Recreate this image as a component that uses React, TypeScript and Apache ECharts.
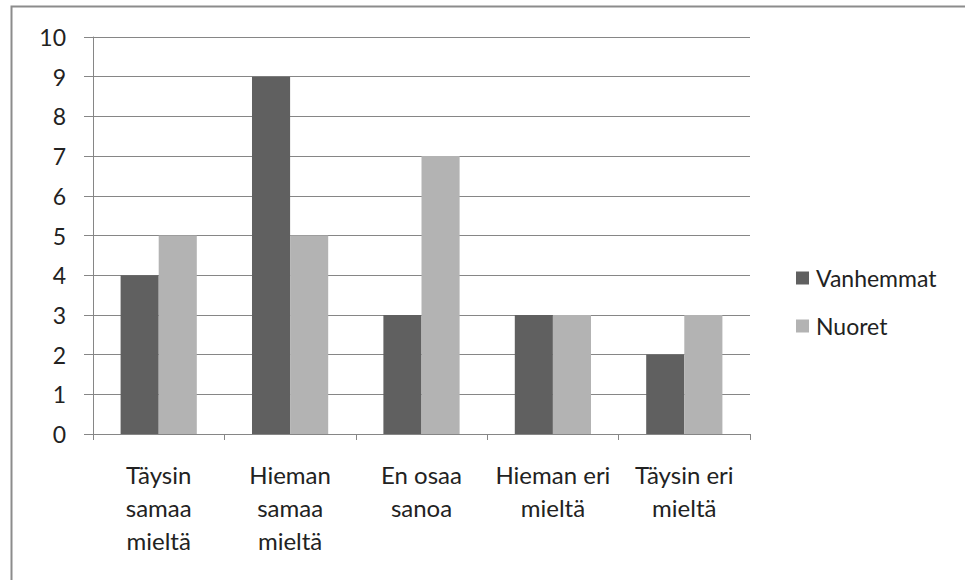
import React, { useEffect, useRef } from "react";
import * as echarts from "echarts";

const categories = [
  "Täysin samaa mieltä",
  "Hieman samaa mieltä",
  "En osaa sanoa",
  "Hieman eri mieltä",
  "Täysin eri mieltä",
];
const categoryLabels = [
  "Täysin\nsamaa\nmieltä",
  "Hieman\nsamaa\nmieltä",
  "En osaa\nsanoa",
  "Hieman eri\nmieltä",
  "Täysin eri\nmieltä",
];
const vanhemmat = [4, 9, 3, 3, 2];
const nuoret = [5, 5, 7, 3, 3];
const seriesNames = ["Vanhemmat", "Nuoret"];

const FONT = "Lato, 'Open Sans', sans-serif";
const FS = 24;

export default function App() {
  const ref = useRef<HTMLDivElement>(null);
  useEffect(() => {
    if (!ref.current) return;
    const chart = echarts.init(ref.current, null, { renderer: "svg" });
    chart.setOption({
      animation: false,
      backgroundColor: "#ffffff",
      textStyle: { fontFamily: FONT },
      graphic: [
        {
          type: "rect",
          shape: { x: 11.5, y: 6.5, width: 1000, height: 700 },
          style: { fill: "none", stroke: "#8c8c8c", lineWidth: 2 },
          silent: true,
        },
      ],
      grid: { left: 93, right: 215, top: 37, bottom: 146 },
      legend: {
        orient: "vertical",
        left: 791,
        top: 261,
        icon: "rect",
        itemWidth: 13,
        itemHeight: 13,
        itemGap: 24,
        textStyle: { fontSize: FS - 1, color: "#222222", fontFamily: FONT, lineHeight: 24, padding: [0, 0, 0, 2] },
        data: seriesNames,
      },
      xAxis: {
        type: "category",
        data: categories,
        axisLine: { show: true, lineStyle: { color: "#868686", width: 1 } },
        axisTick: { show: true, length: 6, lineStyle: { color: "#868686" } },
        axisLabel: {
          interval: 0,
          margin: 24,
          fontSize: FS,
          lineHeight: 33,
          color: "#222222",
          fontFamily: FONT,
          formatter: (v: string) => categoryLabels[categories.indexOf(v)] ?? v,
        },
      },
      yAxis: {
        type: "value",
        min: 0,
        max: 10,
        interval: 1,
        axisLine: { show: true, lineStyle: { color: "#868686", width: 1 } },
        axisTick: { show: true, length: 9, lineStyle: { color: "#868686" } },
        splitLine: { show: true, lineStyle: { color: "#868686", width: 1 } },
        axisLabel: { margin: 27, fontSize: FS - 1, color: "#222222", fontFamily: FONT },
      },
      series: [
        {
          name: seriesNames[0],
          type: "bar",
          data: vanhemmat,
          barWidth: "29%",
          barGap: "0%",
          itemStyle: { color: "#606060" },
        },
        {
          name: seriesNames[1],
          type: "bar",
          data: nuoret,
          barWidth: "29%",
          barGap: "0%",
          itemStyle: { color: "#b3b3b3" },
        },
      ],
    });
    return () => chart.dispose();
  }, []);
  return (
    <div
      ref={ref}
      style={{ position: "fixed", left: 0, top: 0, width: 965, height: 580 }}
    />
  );
}
